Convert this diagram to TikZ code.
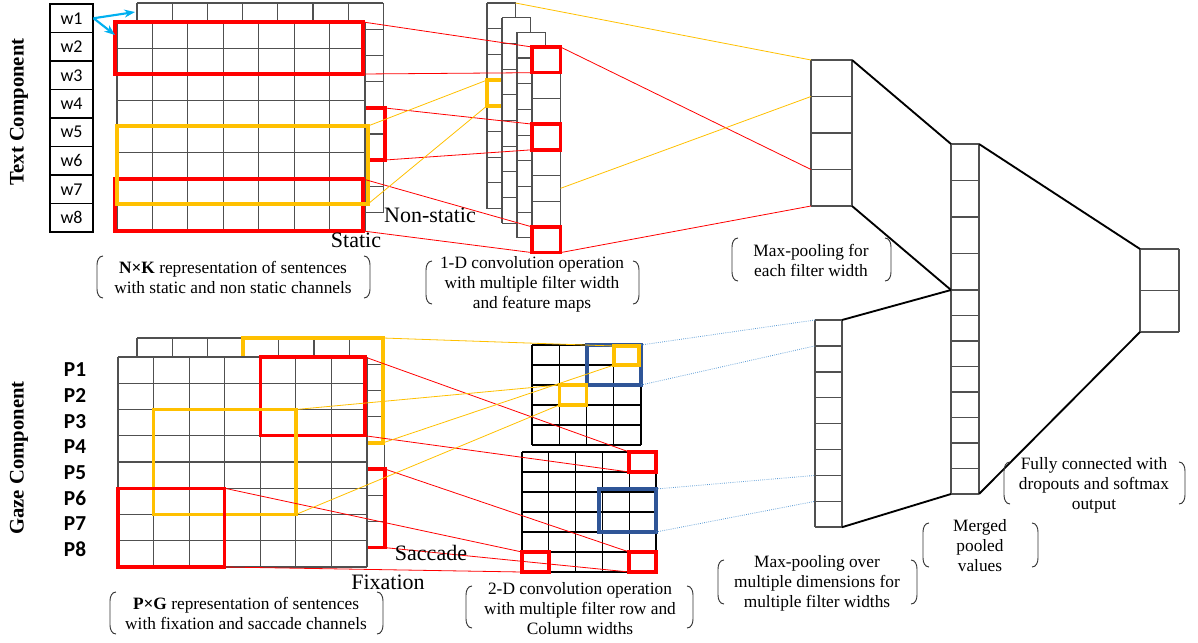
\documentclass[tikz,border=0pt]{standalone}
\usepackage{fontspec}
\setmainfont{Liberation Serif}
\newfontfamily\carlito{Carlito}
\usetikzlibrary{fit,calc,arrows.meta}

\definecolor{boxred}{RGB}{255,0,0}
\definecolor{boxyel}{RGB}{255,192,0}
\definecolor{boxblue}{RGB}{47,85,151}
\definecolor{lineblue}{RGB}{91,155,213}
\definecolor{arrowcyan}{RGB}{0,176,240}
\definecolor{gridgray}{RGB}{80,80,80}

% #1 style, #2 name, #3 x, #4 y, #5 columns, #6 rows, #7 cell width, #8 cell height
\newcommand{\cellgrid}[8][]{%
  \fill[white] (#3,#4) rectangle ({#3+#5*#7},{#4+#6*#8});
  \foreach \i in {0,...,#5}
    \draw[gridline,#1] ({#3+\i*#7},#4) -- ({#3+\i*#7},{#4+#6*#8});
  \foreach \j in {0,...,#6}{
    \draw[gridline,#1] (#3,{#4+\j*#8}) -- ({#3+#5*#7},{#4+\j*#8});
    \coordinate (#2-l\j) at (#3,{#4+\j*#8});
    \coordinate (#2-r\j) at ({#3+#5*#7},{#4+\j*#8});
  }
  \node[fit={(#3,#4) ({#3+#5*#7},{#4+#6*#8})}, inner sep=0pt, outer sep=0pt] (#2) {};
}
% round brackets round a caption
\newcommand{\parens}[4]{%
  \draw[bracket] ({#1+6},#2) to[out=180,in=90] (#1,{#2+9}) -- (#1,{#4-9}) to[out=-90,in=180] ({#1+6},#4);
  \draw[bracket] ({#3-6},#2) to[out=0,in=90] (#3,{#2+9}) -- (#3,{#4-9}) to[out=-90,in=0] ({#3-6},#4);
}

\begin{document}
\begin{tikzpicture}[
  x=0.75pt, y=-0.75pt,
  gridline/.style={draw=gridgray, line width=0.8pt},
  convline/.style={draw=black, line width=0.9pt},
  hl/.style={draw, line width=2.6pt, inner sep=0pt, outer sep=0pt},
  link/.style={line width=0.6pt},
  poollink/.style={line width=1.4pt, black},
  bracket/.style={draw=black!80, line width=0.7pt},
  wordcell/.style={draw=black, line width=0.9pt, minimum width=32.25pt, minimum height=21.4pt,
    inner sep=0pt, font=\carlito\fontsize{13.5}{15}\selectfont},
  plabel/.style={font=\carlito\bfseries\fontsize{16}{18}\selectfont},
  capt/.style={font=\fontsize{13}{15}\selectfont, align=center, inner sep=0pt},
  chan/.style={font=\fontsize{16.5}{18}\selectfont, inner sep=0pt},
  side/.style={font=\bfseries\fontsize{15.5}{18}\selectfont, rotate=90}
]
\useasboundingbox (0,0) rectangle (1198,642);

% text component
\foreach \i in {1,...,8}
  \node[wordcell] (w\i) at (71.5,{4+28.5*(\i-0.5)}) {w\i};
\cellgrid{nonstatic}{137}{3}{7}{8}{35.2}{26.2}
\node[hl, boxred, fit={(280,108) (385,160)}] (tBack) {};
\cellgrid{static}{117}{22}{7}{8}{35.43}{26.1}
\node[hl, boxred, fit={(115,22) (363,74)}] (tTop) {};
\node[hl, boxred, fit={(115,179) (363,231)}] (tBot) {};
\node[hl, boxyel, fit={(117,126) (368,204)}] (tYel) {};
\coordinate (nsin) at (135,12);
\coordinate (sin) at (115,35);
\draw[arrowcyan, line width=1.6pt, -{Stealth[length=8pt,width=6pt]}] (w1.east) -- (nsin);
\draw[arrowcyan, line width=1.6pt, -{Stealth[length=8pt,width=6pt]}] (w1.east) -- (sin);

% feature maps
\cellgrid{fmA}{487}{3}{1}{8}{28.5}{25.7}
\node[hl, boxyel, fit={(fmA-l3) (fmA-r4)}] (a4) {};
\cellgrid{fmB}{502}{17.7}{1}{8}{28.5}{25.7}
\cellgrid{fmC}{517}{32.3}{1}{8}{28.5}{25.7}
\cellgrid{fmD}{532}{47}{1}{8}{28.5}{25.7}
\node[hl, boxred, fit={(fmD-l0) (fmD-r1)}] (d1) {};
\node[hl, boxred, fit={(fmD-l3) (fmD-r4)}] (d4) {};
\node[hl, boxred, fit={(fmD-l7) (fmD-r8)}] (d8) {};
\coordinate (fmDmid) at ($(fmD-r5)!0.5!(fmD-r6)$);

% pooling and output
\cellgrid[line width=1.1pt]{pool1}{811}{60}{1}{4}{41}{36.5}
\cellgrid[line width=1.1pt]{mergedA}{951}{144}{1}{4}{28}{36.5}
\cellgrid[line width=1.1pt]{mergedB}{951}{290}{1}{8}{28}{25.5}
\cellgrid[line width=1.1pt]{out}{1140}{249}{1}{2}{39}{41.5}
\cellgrid[line width=1.1pt]{pool2}{815}{320}{1}{8}{27}{25.9}

% gaze component
\foreach \i in {1,...,8}
  \node[plabel] (p\i) at (75,{370+25.6*(\i-1)}) {P\i};
\cellgrid{saccade}{137}{338}{7}{8}{35.4}{26.2}
\node[hl, boxyel, fit={(243.2,338) (383,442.8)}] (gBackYel) {};
\node[hl, boxred, fit={(278.6,469) (saccade-r8)}] (gBackRed) {};
\cellgrid{fixation}{118}{357}{7}{8}{35.57}{26.25}
\node[hl, boxred, fit={(260.3,357) (365,435.75)}] (gRed1) {};
\node[hl, boxyel, fit={(153.6,409.5) (295.9,514.5)}] (gYel) {};
\node[hl, boxred, fit={(118,488.25) (224.7,567)}] (gRed2) {};

% 2-D maps
\cellgrid[convline]{sacmap}{532}{345}{4}{5}{27.25}{20}
\node[hl, boxblue, line width=3pt, fit={(586.5,345) (641,385)}] (cBlue1) {};
\node[hl, boxyel, fit={(614,346) (639,365)}] (cYel1) {};
\node[hl, boxyel, fit={(559.25,385) (586.5,405)}] (cYel2) {};
\cellgrid[convline]{fixmap}{522}{452}{5}{6}{26.8}{20}
\node[hl, boxred, fit={(629.2,452) (656,472)}] (cRed1) {};
\node[hl, boxred, fit={(522,552) (548.8,572)}] (cRed2) {};
\node[hl, boxred, fit={(629.2,552) (656,572)}] (cRed3) {};
\node[hl, boxblue, line width=3pt, fit={(599,489) (656,532)}] (cBlue2) {};

% connectors
\draw[link, boxred] (tTop.north east) -- (d1.north west);
\draw[link, boxred] (tTop.south east) -- (d1.south west);
\draw[link, boxred] (tBack.north east) -- (d4.north west);
\draw[link, boxred] (tBack.south east) -- (d4.south west);
\draw[link, boxred] (tBot.north east) -- (d8.north west);
\draw[link, boxred] (tBot.south east) -- (d8.south west);
\draw[link, boxyel] (tYel.north east) -- (a4.north west);
\draw[link, boxyel] (tYel.south east) -- (a4.south west);
\draw[link, boxyel] (fmA.north east) -- (pool1-l0);
\draw[link, boxred] (d1.north east) -- (pool1-l3);
\draw[link, boxyel] (fmDmid) -- (pool1-l1);
\draw[link, boxred] (d8.south east) -- (pool1-l4);

\draw[link, boxred] (gRed1.north east) -- (cRed1.north west);
\draw[link, boxred] (gRed1.south east) -- (cRed1.south west);
\draw[link, boxred] (gBackRed.north east) -- (cRed3.north west);
\draw[link, boxred] (gBackRed.south east) -- (cRed3.south west);
\draw[link, boxred] (gRed2.north east) -- (cRed2.north west);
\draw[link, boxred] (gRed2.south east) -- (cRed2.south west);
\draw[link, boxyel] (gBackYel.north east) -- (cYel1.north west);
\draw[link, boxyel] (gBackYel.south east) -- (cYel1.south west);
\draw[link, boxyel] (gYel.north east) -- (cYel2.north west);
\draw[link, boxyel] (gYel.south east) -- (cYel2.south west);
\draw[link, lineblue, densely dotted] (cBlue1.north east) -- (pool2-l0);
\draw[link, lineblue, densely dotted] (cBlue1.south east) -- (pool2-l1);
\draw[link, lineblue, densely dotted] (cBlue2.north east) -- (pool2-l6);
\draw[link, lineblue, densely dotted] (cBlue2.south east) -- (pool2-l7);

\draw[poollink] (pool1.north east) -- (mergedA.north west);
\draw[poollink] (pool1.south east) -- (mergedA.south west);
\draw[poollink] (pool2.north east) -- (mergedB.north west);
\draw[poollink] (pool2.south east) -- (mergedB.south west);
\draw[poollink] (mergedA.north east) -- (out.north west);
\draw[poollink] (mergedB.south east) -- (out.south west);

% labels
\node[side] (textcomp) at (19,112) {Text Component};
\node[side] (gazecomp) at (19,458) {Gaze Component};
\node[chan] (nslabel) at (430,215) {Non-static};
\node[chan] (slabel) at (356,240) {Static};
\node[chan] (saclabel) at (431,553) {Saccade};
\node[chan] (fixlabel) at (388,582) {Fixation};

\node[capt] (nkcap) at (233,277) {\textbf{N×K} representation of sentences\\with static and non static channels};
\parens{97}{256}{370}{298}
\node[capt] (conv1cap) at (532,284) {1-D convolution operation\\with multiple filter width\\and feature maps};
\parens{426}{261}{639}{304}
\node[capt] (pool1cap) at (811,260) {Max-pooling for\\each filter width};
\parens{732}{238}{891}{281}
\node[capt] (fccap) at (1094,485) {Fully connected with\\dropouts and softmax\\output};
\parens{1004}{462}{1185}{504}
\node[capt] (mergecap) at (980,546) {Merged\\pooled\\values};
\parens{923}{523}{1038}{567}
\node[capt] (pool2cap) at (817,583) {Max-pooling over\\multiple dimensions for\\multiple filter widths};
\parens{718}{560}{917}{604}
\node[capt] (conv2cap) at (580,609) {2-D convolution operation\\with multiple filter row and\\Column widths};
\parens{466}{586}{693}{628}
\node[capt] (pgcap) at (246,613) {\textbf{P×G} representation of sentences\\with fixation and saccade channels};
\parens{110}{592}{383}{634}
\end{tikzpicture}
\end{document}
